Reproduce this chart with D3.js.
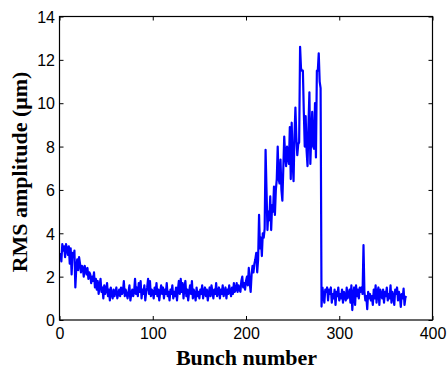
<!DOCTYPE html>
<html>
<head>
<meta charset="utf-8">
<script src="https://cdn.jsdelivr.net/npm/d3@7"></script>
<style>
  html, body { margin: 0; padding: 0; background: #fff; }
  svg { display: block; }
</style>
</head>
<body>
<svg id="chart" width="447" height="369"></svg>
<script>
// ---- Data ----
const xTicks = [0, 100, 200, 300, 400];
const yTicks = [0, 2, 4, 6, 8, 10, 12, 14];
const xLabel = "Bunch number";
const yLabel = "RMS amplitude (\u03bcm)";
const firstBunch = 1;
// RMS amplitude per bunch, bunches 1..372
const rms = [
  3.1, 2.7, 3.5, 3.2, 3.4, 2.9, 3.5, 3.3, 3.0, 3.4,
  2.6, 3.3, 2.1, 3.1, 2.9, 3.2, 1.5, 2.4, 2.8, 2.3,
  2.9, 2.6, 2.2, 2.5, 2.4, 2.0, 2.5, 2.3, 2.1, 2.4,
  1.9, 2.2, 2.1, 1.7, 2.0, 1.8, 2.2, 1.5, 1.9, 1.4,
  1.8, 1.2, 1.6, 1.9, 1.3, 1.5, 1.0, 1.6, 1.2, 1.4,
  1.7, 1.1, 1.4, 0.9, 1.5, 1.2, 1.0, 1.4, 1.1, 1.3,
  1.5, 1.0, 1.2, 1.4, 1.1, 1.5, 1.2, 1.3, 1.8, 1.1,
  1.4, 1.2, 1.0, 1.3, 1.6, 0.9, 1.2, 1.4, 1.1, 1.3,
  1.9, 1.2, 1.5, 1.1, 1.7, 1.3, 1.8, 1.0, 1.4, 1.2,
  1.6, 0.9, 1.3, 1.5, 1.9, 1.2, 1.8, 1.1, 1.4, 1.3,
  1.0, 1.5, 1.2, 1.7, 1.1, 1.4, 0.9, 1.3, 1.6, 1.2,
  1.5, 1.0, 1.4, 1.2, 1.7, 1.1, 1.3, 0.9, 1.4, 1.2,
  1.6, 1.0, 1.3, 1.1, 1.5, 0.9, 1.4, 1.8, 1.2, 1.9,
  1.3, 1.7, 1.0, 1.5, 1.8, 1.1, 1.4, 0.9, 1.3, 1.6,
  1.2, 1.8, 1.0, 1.4, 1.2, 0.9, 1.5, 1.1, 1.3, 1.0,
  1.4, 1.2, 1.6, 1.0, 1.3, 1.5, 1.1, 1.4, 0.9, 1.2,
  1.5, 1.1, 1.6, 1.3, 1.0, 1.4, 1.2, 1.7, 1.1, 1.3,
  1.5, 1.0, 1.4, 1.2, 1.6, 1.1, 1.3, 1.5, 1.0, 1.4,
  1.2, 1.6, 1.3, 1.1, 1.5, 1.2, 1.7, 1.3, 1.4, 1.7,
  1.3, 1.6, 1.4, 1.3, 1.8, 2.0, 1.5, 1.7, 1.4, 1.8,
  2.0, 1.6, 2.4, 1.7, 1.3, 2.1, 2.5, 2.2, 2.6, 2.8,
  3.1, 2.2, 2.8, 4.85, 3.3, 3.8, 2.95, 4.0, 3.8, 4.2,
  7.85, 6.0, 4.15, 5.0, 4.6, 5.7, 4.15, 5.3, 5.0, 6.15,
  4.85, 6.0, 6.5, 8.0, 6.5, 6.3, 7.4, 6.0, 5.5, 7.0,
  8.46, 7.6, 7.1, 8.0, 7.5, 7.2, 8.9, 6.5, 9.1, 7.3,
  6.4, 8.5, 9.8, 8.4, 7.6, 8.1, 8.2, 12.6, 11.6, 11.5,
  11.5, 9.6, 8.0, 9.4, 7.8, 7.1, 9.0, 10.5, 7.2, 8.5,
  9.6, 8.0, 7.9, 10.0, 7.5, 11.5, 11.5, 12.3, 11.0, 10.7,
  0.62, 1.5, 1.1, 0.8, 1.4, 1.3, 1.5, 0.9, 1.4, 1.2,
  1.5, 0.8, 1.2, 1.0, 1.4, 0.7, 1.3, 1.1, 1.5, 0.9,
  1.2, 1.0, 1.4, 0.8, 1.3, 1.1, 0.9, 1.5, 1.0, 1.2,
  1.4, 0.8, 1.6, 0.46, 1.2, 1.5, 0.7, 1.6, 1.1, 1.4,
  1.0, 1.5, 1.3, 1.5, 1.2, 3.45, 1.3, 0.9, 1.1, 0.5,
  1.3, 1.0, 1.2, 0.9, 1.1, 0.7, 1.4, 1.0, 1.6, 0.8,
  1.3, 1.5, 0.7, 1.4, 1.2, 1.0, 1.4, 0.8, 1.3, 1.1,
  1.5, 0.9, 1.2, 1.0, 1.6, 0.8, 1.3, 1.1, 0.7, 1.4,
  1.2, 1.5, 0.9, 1.3, 1.1, 0.6, 1.2, 1.0, 1.45, 0.7,
  1.05, 1.1
];

// ---- Layout ----
const W = 447, H = 369;
const m = { left: 59.5, right: 14.5, top: 16.5, bottom: 49 };
const pw = W - m.left - m.right, ph = H - m.top - m.bottom;

const svg = d3.select("#chart");
const g = svg.append("g").attr("transform", `translate(${m.left},${m.top})`);

const x = d3.scaleLinear().domain([0, 400]).range([0, pw]);
const y = d3.scaleLinear().domain([0, 14]).range([ph, 0]);

// Line
const pts = rms.map((v, i) => ({ b: firstBunch + i, v }));
const line = d3.line().x(d => x(d.b)).y(d => y(d.v));
g.append("path")
  .datum(pts)
  .attr("fill", "none")
  .attr("stroke", "#0000ff")
  .attr("stroke-width", 2.2)
  .attr("stroke-linejoin", "round")
  .attr("d", line);

// Box
g.append("rect")
  .attr("x", 0).attr("y", 0).attr("width", pw).attr("height", ph)
  .attr("fill", "none").attr("stroke", "#000").attr("stroke-width", 1.2);

const tickLen = 4;
const font = "Arial, 'Liberation Sans', Helvetica, sans-serif";

// Bottom axis (inward ticks)
const xb = g.append("g").attr("transform", `translate(0,${ph})`)
  .call(d3.axisBottom(x).tickValues(xTicks).tickSize(-tickLen).tickPadding(8).tickFormat(d3.format("d")));
// Top mirror ticks
const xt = g.append("g")
  .call(d3.axisTop(x).tickValues(xTicks).tickSize(-tickLen).tickFormat(""));
// Left axis
const yl = g.append("g")
  .call(d3.axisLeft(y).tickValues(yTicks).tickSize(-tickLen).tickPadding(8).tickFormat(d3.format("d")));
// Right mirror ticks
const yr = g.append("g").attr("transform", `translate(${pw},0)`)
  .call(d3.axisRight(y).tickValues(yTicks).tickSize(-tickLen).tickFormat(""));

[xb, xt, yl, yr].forEach(a => {
  a.select(".domain").remove();
  a.selectAll(".tick line").attr("stroke", "#000").attr("stroke-width", 1);
  a.selectAll(".tick text")
    .attr("fill", "#000")
    .style("font-family", font)
    .style("font-size", "16px");
});
xb.selectAll(".tick text").attr("y", 8).attr("dy", "0.71em");
yl.selectAll(".tick text").attr("x", -4.5).attr("dy", "0.36em");

// Axis labels
svg.append("text")
  .attr("x", m.left + pw / 2 + 0.5)
  .attr("y", 364.5)
  .attr("text-anchor", "middle")
  .style("font-family", "'Times New Roman', 'Liberation Serif', serif")
  .style("font-weight", "bold")
  .style("font-size", "22px")
  .attr("fill", "#000")
  .text(xLabel);

svg.append("text")
  .attr("transform", `translate(26.5,${172}) rotate(-90)`)
  .attr("text-anchor", "middle")
  .style("font-family", "'Times New Roman', 'Liberation Serif', serif")
  .style("font-weight", "bold")
  .style("font-size", "22px")
  .attr("fill", "#000")
  .text(yLabel);
</script>
</body>
</html>
